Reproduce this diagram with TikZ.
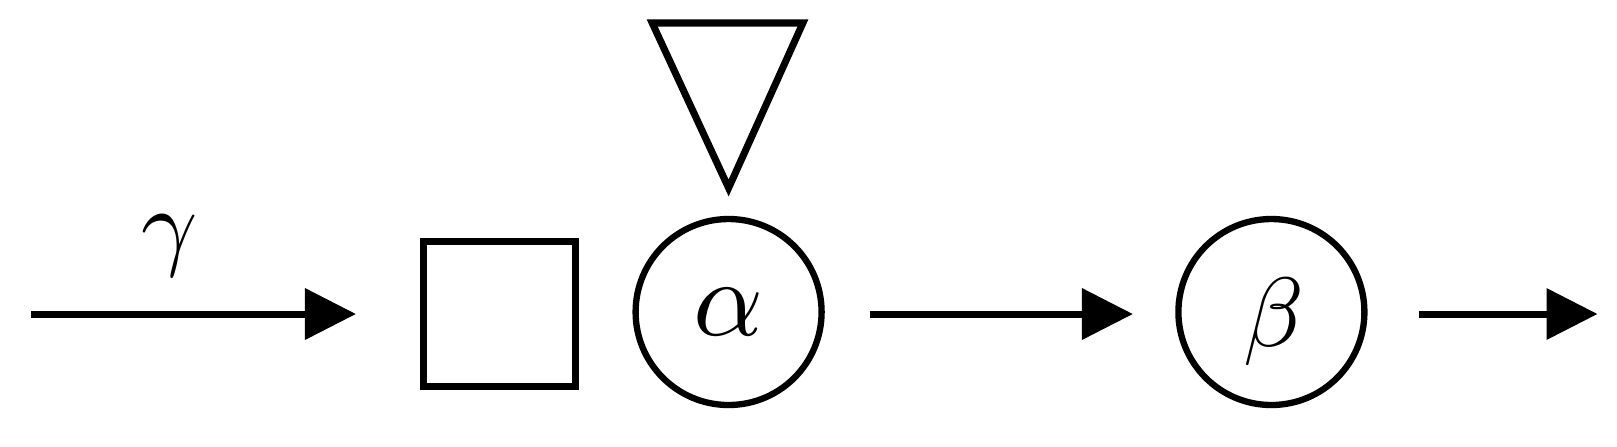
\documentclass[tikz,border=0pt]{standalone}
\usepackage{graphicx}
\usetikzlibrary{arrows.meta}
\newcommand{\bigsym}[2][3.0]{\scalebox{#1}{$#2$}}
\begin{document}
\begin{tikzpicture}[
  lw/.style={line width=2pt},
  conn/.style={lw,-{Triangle[length=0.51cm,width=0.50cm]}},
  circ/.style={circle,draw,line width=1.8pt,minimum size=1.86cm,inner sep=0pt},
  boxnode/.style={rectangle,draw,lw,minimum width=1.52cm,minimum height=1.45cm,inner sep=0pt},
  lbl/.style={inner sep=0pt}
]
\useasboundingbox (0,0) rectangle (16.17,4.46);
\coordinate (in) at (0.31,1.32);
\node[boxnode] (sq) at (4.995,1.32) {};
\node[circ] (a) at (7.286,1.34) {};
\node[lbl] (al) at (a.center) {\bigsym[3.1]{\alpha}};
\node[circ] (b) at (12.714,1.34) {};
\node[lbl] (bl) at ([xshift=0.03cm,yshift=-0.10cm]b.center) {\bigsym[2.8]{\beta}};
\coordinate (out) at (15.975,1.32);
\coordinate (t1) at (6.522,4.23);
\coordinate (t2) at (8.029,4.23);
\coordinate (t3) at (7.286,2.58);
\draw[lw,line join=miter] (t1) -- (t2) -- (t3) -- cycle;
\node[lbl] (g) at (1.70,2.00) {\bigsym[2.8]{\gamma}};
\draw[conn] (in) -- ([xshift=-0.64cm]sq.west |- in);
\draw[conn] ([xshift=0.454cm]a.east |- in) -- ([xshift=-0.423cm]b.west |- in);
\draw[conn] ([xshift=0.516cm]b.east |- in) -- (out);
\end{tikzpicture}
\end{document}
